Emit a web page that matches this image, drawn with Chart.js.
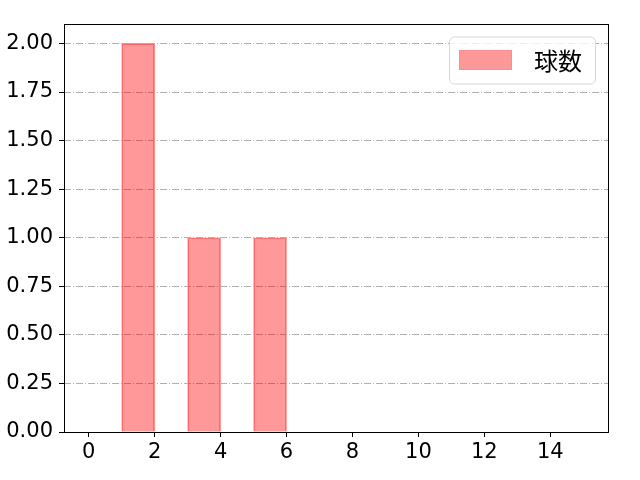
<!DOCTYPE html>
<html>
<head>
<meta charset="utf-8">
<script src="https://cdn.jsdelivr.net/npm/chart.js@4.4.1/dist/chart.umd.min.js"></script>
<style>
  html, body { margin: 0; padding: 0; background: #fff; }
  #wrap { width: 640px; height: 480px; }
</style>
</head>
<body>
<div id="wrap"><canvas id="chart" width="640" height="480"></canvas></div>
<script>
// histogram bins (left edges, width 1) and counts per bin
const binEdges = [0, 1, 2, 3, 4, 5, 6, 7, 8, 9, 10, 11, 12, 13, 14, 15];
const counts = [0, 2, 0, 1, 0, 1, 0, 0, 0, 0, 0, 0, 0, 0, 0];
const seriesLabel = '球数';
const xRange = [-0.75, 15.75];
const yRange = [0, 2.1];

const tickFont = { family: 'DejaVu Sans', size: 21 };

const points = counts.map((c, i) => ({ x: (binEdges[i] + binEdges[i + 1]) / 2, y: c }));

// full box frame around the plot area, like matplotlib spines
const framePlugin = {
  id: 'frame',
  afterDraw(chart) {
    const { ctx, chartArea: a } = chart;
    ctx.save();
    ctx.strokeStyle = '#000';
    ctx.lineWidth = 1;
    ctx.strokeRect(Math.round(a.left) + 0.5, Math.round(a.top) + 0.5,
      Math.round(a.right - a.left), Math.round(a.bottom - a.top));
    ctx.restore();
  }
};

// legend drawn inside the plot, top right
const innerLegend = {
  id: 'innerLegend',
  afterDraw(chart) {
    const { ctx, chartArea: a } = chart;
    const ds = chart.data.datasets[0];
    ctx.save();
    ctx.font = '24px "Noto Sans CJK JP"';
    const tw = ctx.measureText(ds.label).width;
    const sw = 53, sh = 20, padL = 10, gap = 22, padR = 13;
    const w = padL + sw + gap + tw + padR;
    const h = 47;
    const right = a.right - 13;
    const left = right - w;
    const top = a.top + 12.5;

    ctx.beginPath();
    ctx.roundRect(left + 0.5, top + 0.5, w, h, 5);
    ctx.fillStyle = 'rgba(255,255,255,0.8)';
    ctx.fill();
    ctx.strokeStyle = '#d6d6d6';
    ctx.lineWidth = 1;
    ctx.stroke();

    const sy = top + (h - sh) / 2;
    ctx.fillStyle = ds.backgroundColor;
    ctx.fillRect(left + padL, sy, sw, sh);
    ctx.strokeStyle = ds.borderColor;
    ctx.strokeRect(left + padL + 0.5, sy + 0.5, sw - 1, sh - 1);

    ctx.fillStyle = '#000';
    ctx.textBaseline = 'middle';
    ctx.fillText(ds.label, left + padL + sw + gap, top + h / 2 + 1);
    ctx.restore();
  }
};

new Chart(document.getElementById('chart'), {
  type: 'bar',
  data: {
    datasets: [{
      label: seriesLabel,
      data: points,
      backgroundColor: 'rgba(255,0,0,0.4)',
      borderColor: '#ff8c8c',
      borderWidth: 1,
      borderSkipped: 'start',
      barPercentage: 1,
      categoryPercentage: 1
    }]
  },
  options: {
    responsive: false,
    devicePixelRatio: 1,
    animation: false,
    layout: { padding: { top: 24, right: 32, left: 0, bottom: 0 } },
    plugins: {
      legend: { display: false },
      tooltip: { enabled: false }
    },
    scales: {
      x: {
        type: 'linear',
        min: xRange[0],
        max: xRange[1],
        offset: false,
        grid: { offset: false, drawOnChartArea: false, color: '#000', tickLength: 5 },
        border: { display: false },
        ticks: {
          stepSize: 2,
          includeBounds: false,
          color: '#000',
          font: tickFont,
          padding: 3,
          maxRotation: 0
        },
        afterFit(s) { s.height = 48; }
      },
      y: {
        min: yRange[0],
        max: yRange[1],
        z: 1,
        grid: {
          color: '#b0b0b0',
          lineWidth: 1,
          tickColor: '#000',
          tickLength: 5,
          tickBorderDash: []
        },
        border: { display: false, dash: [7, 2, 1, 2] },
        ticks: {
          stepSize: 0.25,
          includeBounds: false,
          color: '#000',
          font: tickFont,
          padding: 6,
          callback: v => v.toFixed(2)
        },
        afterFit(s) { s.width = 64; }
      }
    }
  },
  plugins: [framePlugin, innerLegend]
});
</script>
</body>
</html>
